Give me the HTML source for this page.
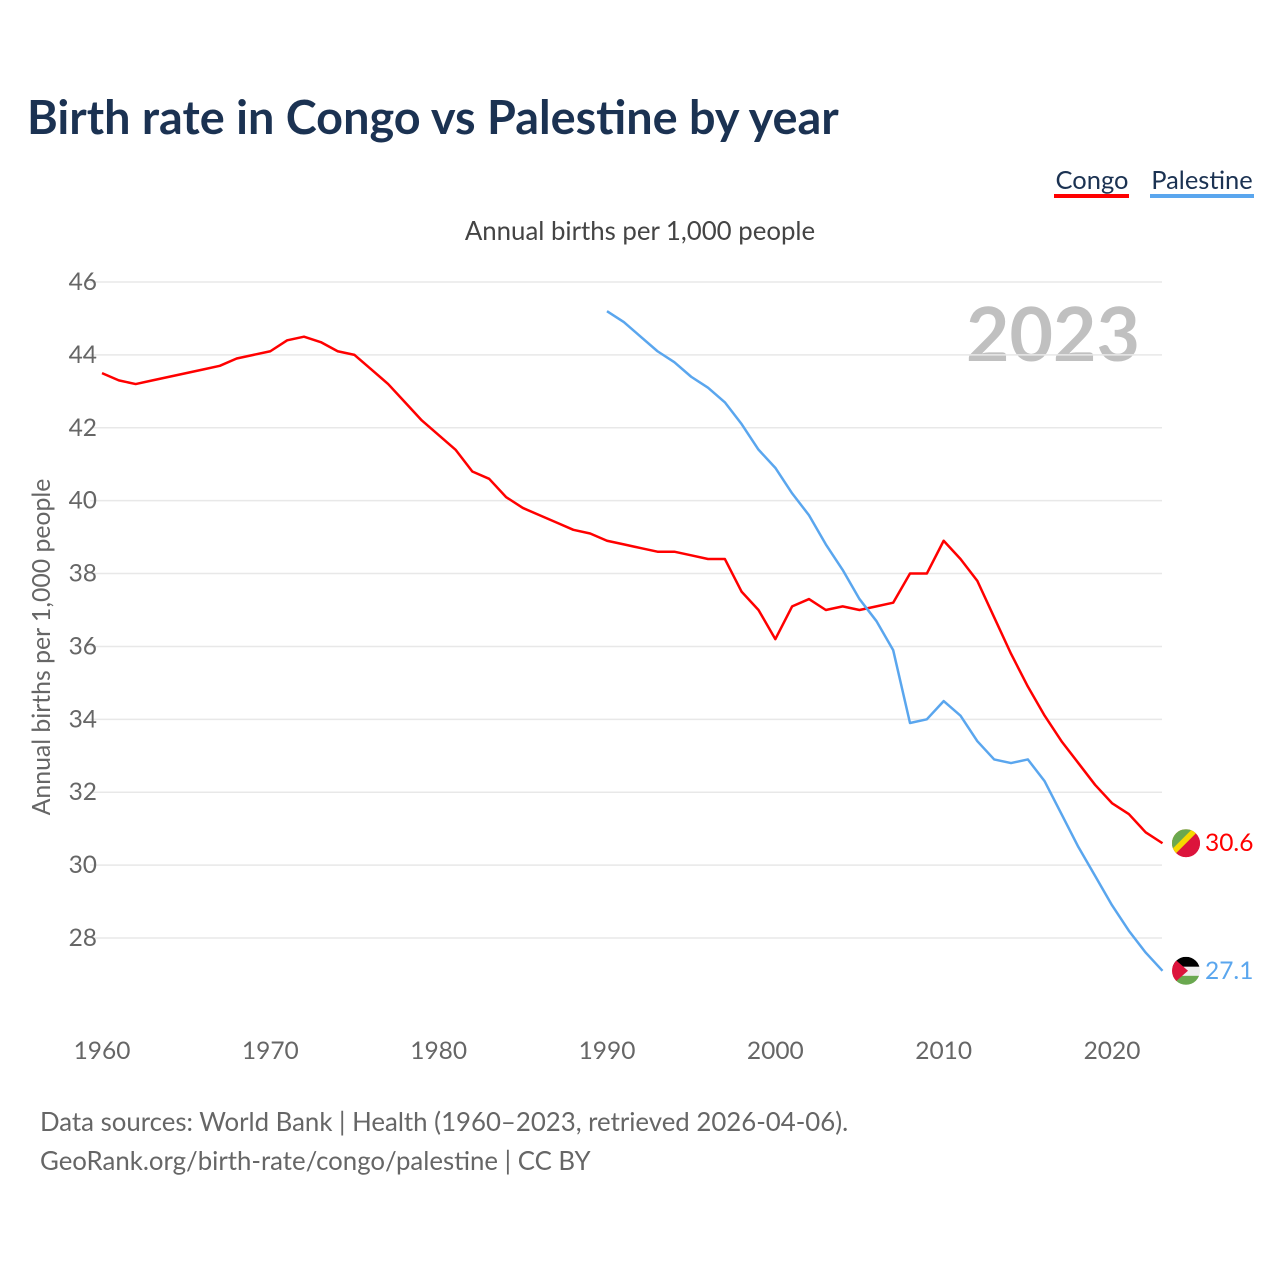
<!DOCTYPE html>
<html><head><meta charset="utf-8"><style>
body{margin:0;background:#fff;font-family:"Liberation Sans",sans-serif}
svg text{font-family:"Lato","Liberation Sans",sans-serif}
</style></head><body>
<svg id="c" width="1280" height="1280" xmlns="http://www.w3.org/2000/svg">
<rect width="1280" height="1280" fill="#fff"/>
<text x="27" y="134" font-size="46.8" font-weight="bold" fill="#1b3252">Birth rate in Congo vs Palestine by year</text>
<g><text x="1092" y="189" font-size="25.5" fill="#1b3252" text-anchor="middle">Congo</text><rect x="1054" y="194" width="75" height="4" fill="#f00"/></g>
<g><text x="1202" y="189" font-size="25.5" fill="#1b3252" text-anchor="middle">Palestine</text><rect x="1150" y="194" width="104" height="4" fill="#5aa6ee"/></g>
<text x="640" y="240" font-size="25.8" fill="#444" text-anchor="middle">Annual births per 1,000 people</text>
<text transform="translate(50,647) rotate(-90)" font-size="24.8" fill="#666" text-anchor="middle">Annual births per 1,000 people</text>
<text x="1140" y="361" font-size="75" font-weight="bold" fill="#c0c0c0" text-anchor="end">2023</text>
<g id="grid"></g><g id="lines"></g>
<text x="40" y="1131" font-size="25.8" fill="#666">Data sources: World Bank | Health (1960–2023, retrieved 2026-04-06).</text>
<text x="40" y="1170" font-size="25.8" fill="#666">GeoRank.org/birth-rate/congo/palestine | CC BY</text>
</svg>
<script>
const yTicks=[28,30,32,34,36,38,40,42,44,46];
const xTicks=[1960,1970,1980,1990,2000,2010,2020];
const congoYears=[];for(let y=1960;y<=2023;y++)congoYears.push(y);
const congo=[43.5,43.3,43.2,43.3,43.4,43.5,43.6,43.7,43.9,44.0,44.1,44.4,44.5,44.35,44.1,44.0,43.6,43.2,42.7,42.2,41.8,41.4,40.8,40.6,40.1,39.8,39.6,39.4,39.2,39.1,38.9,38.8,38.7,38.6,38.6,38.5,38.4,38.4,37.5,37.0,36.2,37.1,37.3,37.0,37.1,37.0,37.1,37.2,38.0,38.0,38.9,38.4,37.8,36.8,35.8,34.9,34.1,33.4,32.8,32.2,31.7,31.4,30.9,30.6];
const palYears=[];for(let y=1990;y<=2023;y++)palYears.push(y);
const palestine=[45.2,44.9,44.5,44.1,43.8,43.4,43.1,42.7,42.1,41.4,40.9,40.2,39.6,38.8,38.1,37.3,36.7,35.9,33.9,34.0,34.5,34.1,33.4,32.9,32.8,32.9,32.3,31.4,30.5,29.7,28.9,28.2,27.6,27.1];
const NS="http://www.w3.org/2000/svg";
const X=y=>102+(y-1960)*(1010/60);
const Y=v=>282+(46-v)*(656/18);
function mk(t,a,p){const e=document.createElementNS(NS,t);for(const k in a)e.setAttribute(k,a[k]);p.appendChild(e);return e;}
const grid=document.getElementById('grid'),lines=document.getElementById('lines');
yTicks.forEach(v=>{
 const l=mk('line',{x1:90,x2:1162,y1:Y(v),y2:Y(v),stroke:'#e8e8e8','stroke-width':1.5},grid);
 
 
 const t=mk('text',{x:97,y:Y(v)+8,'font-size':24.5,fill:'#666','text-anchor':'end'},grid);t.textContent=v;
 
 
});
xTicks.forEach(v=>{
 const t=mk('text',{x:X(v),y:1059,'font-size':24.5,fill:'#666','text-anchor':'middle'},grid);t.textContent=v;
 
 
});
function line(ys,vs,col,name){
 const p=mk('polyline',{points:ys.map((y,i)=>X(y)+','+Y(vs[i])).join(' '),fill:'none',stroke:col,'stroke-width':2.5,'stroke-linejoin':'round'},lines);
 
 
}
line(congoYears,congo,'#f00','congo-line');
line(palYears,palestine,'#5aa6ee','palestine-line');
function flag(v,col,name,kind){
 const cx=1186,cy=Y(v);
 const g=mk('g',{},lines);
 
 
 const id='cl'+name;
 const cp=mk('clipPath',{id:id},g);mk('circle',{cx:cx,cy:cy,r:14},cp);
 const h=mk('g',{'clip-path':'url(#'+id+')'},g);
 if(kind==='cg'){
  mk('rect',{x:cx-14,y:cy-14,width:28,height:28,fill:'#dc143c'},h);
  mk('polygon',{points:`${cx-14},${cy-14} ${cx+14},${cy-14} ${cx-14},${cy+14}`,fill:'#f5d800'},h);
  mk('polygon',{points:`${cx-14},${cy-14} ${cx+6},${cy-14} ${cx-14},${cy+6}`,fill:'#6aa84f'},h);
  mk('polygon',{points:`${cx+14},${cy+14} ${cx+14},${cy-6} ${cx-6},${cy+14}`,fill:'#dc143c'},h);
 }else{
  mk('rect',{x:cx-14,y:cy-14,width:28,height:10,fill:'#000'},h);
  mk('rect',{x:cx-14,y:cy-4,width:28,height:9,fill:'#eee'},h);
  mk('rect',{x:cx-14,y:cy+5,width:28,height:10,fill:'#6aa84f'},h);
  mk('polygon',{points:`${cx-14},${cy-14} ${cx+2},${cy} ${cx-14},${cy+14}`,fill:'#dc143c'},h);
 }
 const t=mk('text',{x:1205,y:cy+8,'font-size':24.5,fill:col},g);t.textContent=v.toFixed(1);
}
flag(congo[congo.length-1],'#f00','congo','cg');
flag(palestine[palestine.length-1],'#5aa6ee','palestine','ps');
</script>
</body></html>
